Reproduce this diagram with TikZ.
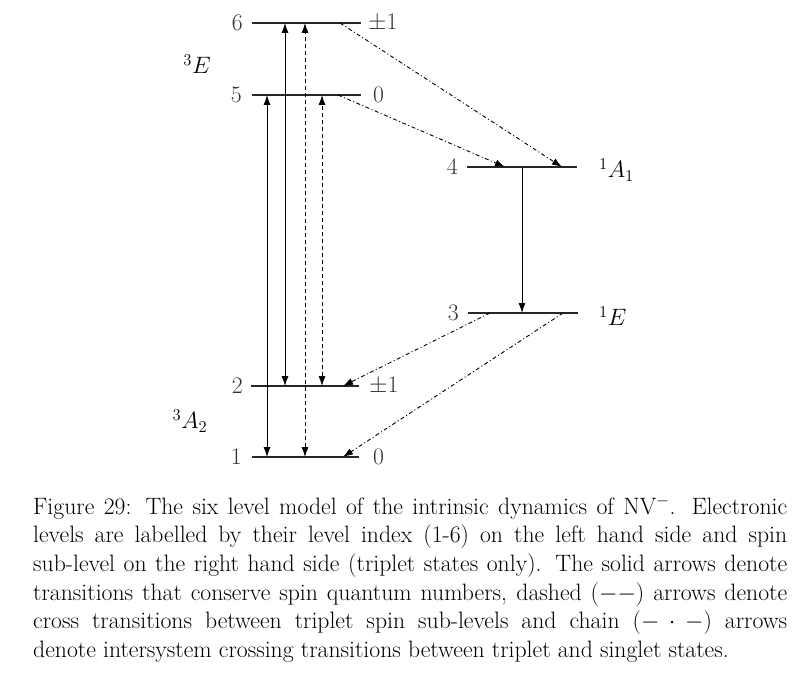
\RequirePackage{fix-cm}
\documentclass[tikz,border=0pt]{standalone}
\usetikzlibrary{arrows.meta}
\begin{document}
\begin{tikzpicture}[x=1pt,y=-1pt,
  level/.style={line width=1.2pt,black!85},
  lbl/.style={inner sep=0pt,text=black!80,font=\fontsize{23.7}{28.6}\selectfont},
  tip/.style={-{Latex[length=10pt,width=7pt]}},
  both/.style={{Latex[length=10pt,width=7pt]}-{Latex[length=10pt,width=7pt]}},
  arr/.style={line width=0.9pt},
  dsh/.style={dash pattern=on 4pt off 3pt},
  chain/.style={dash pattern=on 4pt off 2.5pt on 1pt off 2.5pt}]
\useasboundingbox (0,0) rectangle (800,676);
% level end points
\coordinate (L6a) at (252,23);  \coordinate (L6b) at (361,23);
\coordinate (L5a) at (252,95);  \coordinate (L5b) at (361,95);
\coordinate (L4a) at (467,167); \coordinate (L4b) at (577,167);
\coordinate (L3a) at (468,313); \coordinate (L3b) at (578,313);
\coordinate (L2a) at (251,386); \coordinate (L2b) at (359,386);
\coordinate (L1a) at (252,457); \coordinate (L1b) at (359,457);
\foreach \l in {1,...,6} \draw[level] (L\l a) -- (L\l b);
% labels
\node[lbl,anchor=east] (n6) at (243,23) {6};
\node[lbl,anchor=west] (s6) at (368,23) {$\pm1$};
\node[lbl,anchor=east] (n5) at (242,95) {5};
\node[lbl,anchor=west] (s5) at (373,95) {0};
\node[lbl,anchor=east] (n4) at (458,167) {4};
\node[lbl,anchor=west,text=black] (s4) at (599,170) {$^1A_1$};
\node[lbl,anchor=east] (n3) at (459,313) {3};
\node[lbl,anchor=west,text=black] (s3) at (599,316) {$^1E$};
\node[lbl,anchor=east] (n2) at (243,386) {2};
\node[lbl,anchor=west] (s2) at (369,386) {$\pm1$};
\node[lbl,anchor=east] (n1) at (242,457) {1};
\node[lbl,anchor=west] (s1) at (373,457) {0};
\node[lbl,text=black] (tE) at (197,64) {$^3E$};
\node[lbl,text=black] (tA) at (190,421) {$^3A_2$};
% arrow end points
\coordinate (p15a) at (267,457); \coordinate (p15b) at (267,95);
\coordinate (p26a) at (285,386); \coordinate (p26b) at (285,23);
\coordinate (p16a) at (305,457); \coordinate (p16b) at (305,23);
\coordinate (p25a) at (322,386); \coordinate (p25b) at (322,95);
\coordinate (c6s) at (340,23);  \coordinate (c6e) at (562,167);
\coordinate (c5s) at (338,95);  \coordinate (c5e) at (505,167);
\coordinate (c3s) at (490,313); \coordinate (c3e) at (343,386);
\coordinate (c3t) at (563,313); \coordinate (c1e) at (343,457);
\coordinate (d4) at (522,167);  \coordinate (d3) at (522,313);
% transitions
\draw[arr,both] (p15a) -- (p15b);
\draw[arr,both] (p26a) -- (p26b);
\draw[arr,both,dsh] (p16a) -- (p16b);
\draw[arr,both,dsh] (p25a) -- (p25b);
\draw[arr,tip] (d4) -- (d3);
\draw[arr,tip,chain] (c6s) -- (c6e);
\draw[arr,tip,chain] (c5s) -- (c5e);
\draw[arr,tip,chain] (c3s) -- (c3e);
\draw[arr,tip,chain] (c3t) -- (c1e);
% caption
\node[inner sep=0pt,anchor=north west,text width=754pt,align=justify,
  font=\fontsize{23.7}{28.6}\selectfont] (cap) at (33,494) {\strut Figure 29: The six level model of the intrinsic dynamics of NV$^-$. Electronic\linebreak
levels are labelled by their level index (1-6) on the left hand side and spin\linebreak
sub-level on the right hand side (triplet states only). The solid arrows denote\linebreak
transitions that conserve spin quantum numbers, dashed $(--)$ arrows denote\linebreak
cross transitions between triplet spin sub-levels and chain $(-\cdot-)$ arrows\linebreak
denote intersystem crossing transitions between triplet and singlet states.};
\end{tikzpicture}
\end{document}
